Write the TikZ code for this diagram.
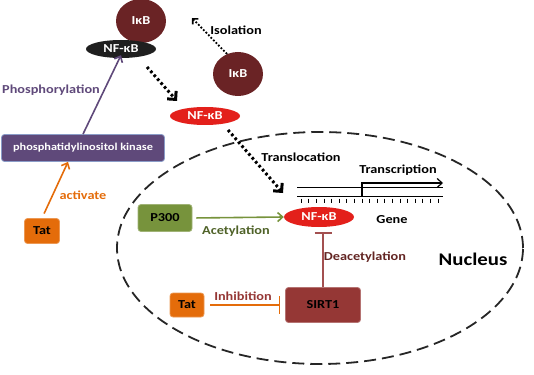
\documentclass[tikz,border=0pt]{standalone}
\usepackage{fontspec}
\setmainfont{Carlito}[FakeStretch=1.17]
\usetikzlibrary{arrows.meta,shapes.geometric}
\definecolor{ikb}{HTML}{6A2325}
\definecolor{nfred}{HTML}{E3201B}
\definecolor{kpurple}{HTML}{5F497A}
\definecolor{kborder}{HTML}{8A9CC8}
\definecolor{torange}{HTML}{E46C0A}
\definecolor{pgreen}{HTML}{77933C}
\definecolor{dgreen}{HTML}{4F6228}
\definecolor{sirtc}{HTML}{953735}
\definecolor{brownlbl}{HTML}{632523}
\definecolor{deacl}{HTML}{A35050}
\tikzset{
  f13/.style={font=\bfseries\fontsize{12.2}{15}\selectfont},
  circ/.style={ellipse, fill=ikb, minimum width=50pt, minimum height=44pt, inner sep=0pt, text=white, f13},
  nfkb/.style={ellipse, minimum width=70pt, minimum height=18pt, inner sep=0pt, text=white, f13},
  box/.style={rounded corners=3pt, line width=0.8pt, inner sep=0pt, f13},
  lbl/.style={f13, inner sep=0pt},
  dotarrow/.style={line width=3pt, dash pattern=on 2.6pt off 2.6pt, -{Straight Barb[length=6pt,width=12pt,line width=3pt]}},
  thinarrow/.style={line width=1.6pt, -{Straight Barb[length=5pt,width=9pt,line width=1.6pt]}},
}
\begin{document}
\begin{tikzpicture}[x=1pt,y=-1pt]
\useasboundingbox (0,0) rectangle (534,374);
% nucleus
\node[ellipse, draw=black!85, line width=1.8pt, dash pattern=on 12pt off 6pt, minimum width=406pt, minimum height=232pt, inner sep=0pt] (nucleus) at (320,248) {};
\node[font=\bfseries\fontsize{17.8}{21}\selectfont, inner sep=0pt] (nuclbl) at (473,259) {Nucleus};
% cytoplasm molecules
\node[circ] (ikb1) at (141,21) {IκB};
\node[nfkb, fill=black!88] (nfkb1) at (121,49) {NF-κB};
\node[circ] (ikb2) at (238,74) {IκB};
\node[nfkb, fill=nfred] (nfkb2) at (205,116) {NF-κB};
\node[box, fill=kpurple, draw=kborder, text=white, minimum width=163pt, minimum height=27pt, font=\bfseries\fontsize{10.5}{12}\selectfont] (pik) at (83,148) {phosphatidylinositol kinase};
\node[box, fill=torange, draw=torange!70, minimum width=35pt, minimum height=25pt] (tat1) at (42,231) {Tat};
% nucleus contents
\node[box, fill=pgreen, draw=pgreen!70, minimum width=54pt, minimum height=27pt] (p300) at (165,218) {P300};
\node[nfkb, fill=nfred, minimum height=20pt] (nfkb3) at (319,217) {NF-κB};
\node[box, fill=sirtc, draw=sirtc!70, minimum width=75pt, minimum height=35pt] (sirt) at (323,305) {SIRT1};
\node[box, fill=torange, draw=torange!70, minimum width=34pt, minimum height=24pt] (tat2) at (187,305) {Tat};
% DNA
\coordinate (dnal) at (297,196);
\coordinate (dnar) at (443,196);
\draw[line width=1pt] (dnal) -- (dnar);
\draw[line width=1pt] ([yshift=9]dnal) -- ([yshift=9]dnar);
\foreach \i in {0,...,18} \draw[line width=0.6pt] (301+7.6*\i,198.5) -- (301+7.6*\i,203);
\coordinate (tss) at (362,196);
\coordinate (tsend) at (443,183);
\draw[line width=1.2pt, -{Straight Barb[length=5pt,width=9pt,line width=1.2pt]}] (tss) |- (tsend);
% labels
\node[lbl, text=kpurple] (phl) at (51,90) {Phosphorylation};
\node[lbl, text=torange] (actl) at (83,195) {activate};
\node[lbl] (isol) at (236,30) {Isolation};
\node[lbl] (transl) at (301,157) {Translocation};
\node[lbl] (transc) at (398,170) {Transcription};
\node[lbl] (genel) at (392,220) {Gene};
\node[lbl, text=dgreen] (acetl) at (236,231) {Acetylation};
\node[lbl, text=brownlbl] (deacl) at (365,257) {Deacetylation};
\node[lbl, text=sirtc] (inhl) at (243,296) {Inhibition};
% arrows
\draw[thinarrow, kpurple] (pik.north) -- ([yshift=3]nfkb1.south);
\draw[thinarrow, torange, shorten <=5pt] (tat1.north) -- ([xshift=-15pt]pik.south);
\draw[dotarrow] ([shift={(26,18)}]nfkb1.center) -- ([shift={(-28,-15)}]nfkb2.center);
\coordinate (isoend) at (192,18);
\draw[line width=1.8pt, dash pattern=on 1.8pt off 1.8pt, -{Straight Barb[length=4pt,width=8pt,line width=1.6pt]}] ([shift={(-11,-20)}]ikb2.center) -- (isoend);
\draw[dotarrow] ([shift={(23,14)}]nfkb2.center) -- ([shift={(-36,-24)}]nfkb3.center);
\draw[thinarrow, pgreen, shorten <=4pt] (p300.east) -- (nfkb3.west);
\draw[line width=1.6pt, deacl, shorten >=5pt, -{Bar[width=17pt,line width=1.6pt]}] (sirt.north) -- (sirt.north |- nfkb3.south);
\draw[line width=1.6pt, torange, shorten <=6pt, shorten >=5pt, -{Bar[width=18pt,line width=1.6pt]}] (tat2.east) -- (sirt.west);
\end{tikzpicture}
\end{document}
